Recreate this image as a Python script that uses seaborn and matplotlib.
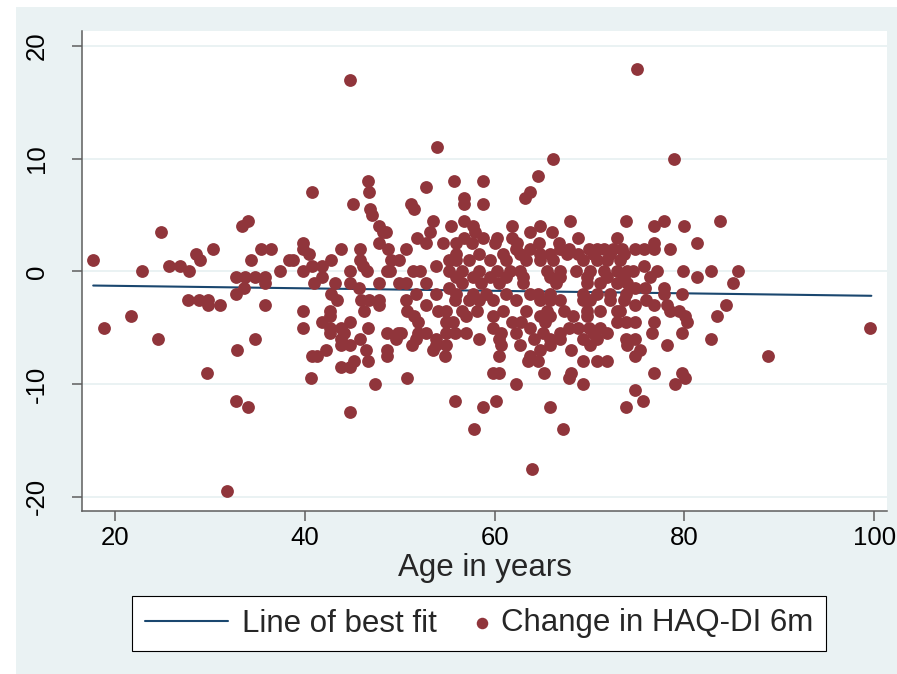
import numpy as np
import pandas as pd
import matplotlib
matplotlib.use("Agg")
import matplotlib.pyplot as plt
import seaborn as sns
from matplotlib.patches import Rectangle
from matplotlib.collections import PathCollection
from matplotlib.legend_handler import HandlerPathCollection

# ---- patients aged under 40 ----
age_a = [17.7, 18.8, 21.7, 22.8, 24.5, 24.8, 25.7, 26.8, 27.7, 27.8, 28.5, 28.8, 29.0,
         29.7, 29.8, 29.8, 30.3, 31.1, 31.8, 32.8, 32.8, 32.8, 32.9, 33.4, 33.6, 33.7,
         34.0, 34.0, 34.3, 34.8, 34.8, 35.4, 35.8, 35.8, 35.8, 36.4, 37.4, 38.3]
chg_a = [1.0, -5.0, -4.0, 0.0, -6.0, 3.5, 0.5, 0.5, -2.5, 0.0, 1.5, -2.5, 1.0,
         -9.0, -2.5, -3.0, 2.0, -3.0, -19.5, -11.5, -2.0, -0.5, -7.0, 4.0, -1.5, -0.5,
         -12.0, 4.5, 1.0, -6.0, -0.5, 2.0, -0.5, -1.0, -3.0, 2.0, 0.0, 1.0]

# ---- ages 38-56, upper half ----
age_b = [53.9, 40.8, 46.7, 46.8, 45.1, 52.8, 55.7, 51.2, 51.5, 46.9, 47.1, 53.5, 55.4,
         47.8, 48.6, 48.2, 53.2, 51.8, 52.8, 39.8, 43.8, 45.8, 47.8, 48.8, 50.7, 54.6,
         39.8, 38.8, 40.4, 42.8, 45.8, 49.1, 49.9, 40.8, 41.8, 39.8, 44.8, 46.6, 48.7,
         51.4, 52.1, 53.8, 55.2, 41.0, 43.2, 44.8, 45.7, 47.8, 49.9, 50.7, 52.8, 55.2,
         41.8, 46.1, 49.0, 44.8]
chg_b = [11.0, 7.0, 8.0, 7.0, 6.0, 7.5, 8.0, 6.0, 5.5, 5.5, 5.0, 4.5, 4.0,
         4.0, 3.5, 3.5, 3.5, 3.0, 2.5, 2.5, 2.0, 2.0, 2.5, 2.0, 2.0, 2.5,
         2.0, 1.0, 1.5, 1.0, 1.0, 1.0, 1.0, 0.5, 0.5, 0.0, 0.0, 0.0, 0.0,
         0.0, 0.0, 0.5, 1.0, -1.0, -1.0, -1.0, -1.5, -1.0, -1.0, -1.0, -1.0, -1.5,
         -0.5, 0.5, 0.0, 17.0]

# ---- ages 38-56, lower half ----
age_c = [42.8, 43.4, 45.9, 46.8, 47.8, 47.8, 50.7, 51.7, 52.8, 53.8, 55.8, 39.8, 42.7,
         42.7, 46.2, 50.8, 51.5, 51.9, 54.0, 54.9, 54.9, 55.6, 39.8, 41.8, 42.7, 43.8,
         44.8, 46.7, 42.7, 44.1, 48.7, 49.8, 50.1, 49.6, 51.9, 52.8, 53.8, 54.9, 55.8,
         43.8, 43.8, 44.8, 45.8, 51.3, 51.7, 53.5, 53.8, 54.9, 54.8, 42.2, 40.8, 41.3,
         46.5, 48.7, 48.7, 45.2, 44.8, 43.8, 46.7, 40.7, 47.4, 50.8, 55.8, 44.8]
chg_c = [-2.0, -2.5, -2.5, -2.5, -2.5, -3.0, -2.5, -2.0, -3.0, -2.0, -2.5, -3.5, -3.5,
         -4.0, -3.5, -3.5, -4.0, -4.5, -3.5, -3.5, -4.5, -4.5, -5.0, -4.5, -5.0, -5.0,
         -4.5, -5.0, -5.5, -5.5, -5.5, -5.5, -5.5, -6.0, -5.5, -5.5, -6.0, -5.5, -5.5,
         -6.0, -6.5, -6.5, -6.0, -6.5, -6.0, -7.0, -6.5, -6.5, -7.5, -7.0, -7.5, -7.5,
         -7.0, -7.0, -7.5, -8.0, -8.5, -8.5, -8.0, -9.5, -10.0, -9.5, -11.5, -12.5]

# ---- ages 55-74, improvements and no change ----
age_d = [66.2, 58.8, 64.6, 63.7, 63.2, 56.8, 56.8, 58.8, 67.9, 73.8, 56.8, 57.7, 57.9,
         61.8, 63.7, 64.8, 66.0, 68.8, 72.9, 64.7, 66.8, 71.5, 73.4,
         56.8, 58.8, 60.3, 61.8,
         55.9, 57.6, 60.0, 62.4,
         62.3, 63.7, 66.9, 67.8, 69.9, 70.8, 72.5,
         55.9, 58.4, 60.9, 62.7, 64.8, 65.8, 67.6, 68.8, 70.4, 72.2, 73.6,
         55.9, 57.3, 59.5, 61.2, 63.3, 64.8, 66.2, 69.3, 70.8, 71.8, 73.2,
         55.2, 56.6, 58.4, 60.2, 61.6, 62.7, 65.5, 66.9, 68.6, 70.1, 71.5, 72.9, 73.9]
chg_d = [10.0, 8.0, 8.5, 7.0, 6.5, 6.5, 6.0, 6.0, 4.5, 4.5, 4.5, 4.0, 3.5,
         4.0, 3.5, 4.0, 3.5, 3.0, 3.0, 2.5, 2.5, 2.0, 2.0,
         3.0, 3.0, 3.0, 3.0,
         2.5, 2.5, 2.5, 2.5,
         2.0, 2.0, 2.0, 2.0, 2.0, 2.0, 2.0,
         1.5, 1.5, 1.5, 1.5, 1.5, 1.5, 1.5, 1.5, 1.5, 1.5, 1.5,
         1.0, 1.0, 1.0, 1.0, 1.0, 1.0, 1.0, 1.0, 1.0, 1.0, 1.0,
         0.0, 0.0, 0.0, 0.0, 0.0, 0.0, 0.0, 0.0, 0.0, 0.0, 0.0, 0.0, 0.0]

# ---- ages 55-74, worsening ----
age_e = [55.9, 57.7, 59.5, 61.2, 63.0, 65.8, 66.9, 69.7, 71.8, 73.6,
         56.6, 58.6, 60.5, 63.0, 66.5, 69.7, 71.1, 72.9,
         55.9, 57.7, 59.1, 61.2, 63.7, 64.6, 65.8, 69.3, 70.8, 72.2, 73.8,
         57.3, 58.4, 59.8, 62.3, 64.8, 65.8, 66.9, 69.3, 70.1, 72.2, 73.6,
         56.6, 58.1, 60.9, 63.3, 65.5, 67.3, 69.7, 71.1, 72.9,
         57.0, 59.8, 64.8, 65.8, 68.3, 69.7,
         61.8, 62.8, 65.3, 72.9, 73.8,
         59.8, 63.7, 67.8, 68.8, 69.9, 71.1,
         57.0, 60.7, 62.3, 65.1, 66.9, 70.4, 71.8,
         58.4, 60.5, 64.1, 65.8, 66.9, 69.3, 70.8, 73.8,
         60.7, 62.7, 65.8, 70.1,
         64.8, 68.0, 60.5, 63.7,
         63.5, 64.6, 69.3, 70.8, 71.8,
         59.8, 60.5, 65.2, 68.1, 67.8, 62.3, 69.3,
         60.1, 58.8, 65.8, 73.8, 57.8, 67.2, 63.9]
chg_e = [-0.5, -0.5, -0.5, -0.5, -0.5, -0.5, -0.5, -0.5, -0.5, -0.5,
         -1.0, -1.0, -1.0, -1.0, -1.0, -1.0, -1.0, -1.0,
         -2.0, -2.0, -2.0, -2.0, -2.0, -2.0, -2.0, -2.0, -2.0, -2.0, -2.0,
         -2.5, -2.5, -2.5, -2.5, -2.5, -2.5, -2.5, -2.5, -2.5, -2.5, -2.5,
         -3.5, -3.5, -3.5, -3.5, -3.5, -3.5, -3.5, -3.5, -3.5,
         -4.0, -4.0, -4.0, -4.0, -4.0, -4.0,
         -4.5, -4.5, -4.5, -4.5, -4.5,
         -5.0, -5.0, -5.0, -5.0, -5.0, -5.0,
         -5.5, -5.5, -5.5, -5.5, -5.5, -5.5, -5.5,
         -6.0, -6.0, -6.0, -6.0, -6.0, -6.0, -6.0, -6.0,
         -6.5, -6.5, -6.5, -6.5,
         -7.0, -7.0, -7.5, -7.5,
         -8.0, -8.0, -8.0, -8.0, -8.0,
         -9.0, -9.0, -9.0, -9.0, -9.5, -10.0, -10.0,
         -11.5, -12.0, -12.0, -12.0, -14.0, -14.0, -17.5]

# ---- patients aged 73 and over ----
age_f = [78.9, 76.8, 77.8, 80.0, 83.7, 76.8, 81.3, 74.8, 75.7, 76.8, 78.5, 75.7, 74.6,
         77.1, 79.9, 82.8, 85.7, 81.3, 85.1, 76.4, 73.9, 75.9, 77.8, 79.8, 74.8, 77.8,
         73.2, 74.8, 76.0, 76.8, 78.2, 78.5, 79.4, 80.1, 80.3, 84.4, 83.4, 74.8, 76.8,
         76.6, 79.8, 82.8, 74.8, 74.0, 78.2, 75.3, 74.8, 88.8, 76.8, 79.8, 80.1, 79.0,
         74.8, 75.6, 75.0, 99.6]
chg_f = [10.0, 4.0, 4.5, 4.0, 4.5, 2.5, 2.5, 2.0, 2.0, 2.0, 2.0, 0.5, 0.0,
         0.0, 0.0, 0.0, 0.0, -0.5, -1.0, -0.5, -1.0, -1.5, -1.5, -2.0, -1.5, -2.0,
         -3.5, -3.0, -2.5, -3.0, -3.0, -3.5, -3.5, -4.0, -4.5, -3.0, -4.0, -4.5, -4.5,
         -5.5, -5.5, -6.0, -6.0, -6.5, -6.5, -7.0, -7.5, -7.5, -9.0, -9.0, -9.5, -10.0,
         -10.5, -11.5, 18.0, -5.0]

# ---- fitted regression line (endpoints over the observed age range) ----
fit_age = [17.7, 99.7]
fit_chg = [-1.26, -2.17]

BG = "#EAF2F3"
NAVY = "#1A476F"
MAROON = "#90353B"
AXIS_GREY = "#5E5E5E"

df = pd.DataFrame({
    "age": age_a + age_b + age_c + age_d + age_e + age_f,
    "chg": chg_a + chg_b + chg_c + chg_d + chg_e + chg_f,
})
fit_df = pd.DataFrame({"age": fit_age, "chg": fit_chg})

sns.set_theme(style="white")
plt.rcParams["font.family"] = ["Liberation Sans", "DejaVu Sans"]
plt.rcParams["axes.unicode_minus"] = False

W, H = 897, 674
fig = plt.figure(figsize=(W / 100, H / 100), dpi=100, facecolor="white")
fig.patches.append(Rectangle((16 / W, 0), 1, (H - 7) / H, transform=fig.transFigure,
                             facecolor=BG, edgecolor="none", zorder=-10))

ax = fig.add_axes([82 / W, 163 / H, 805 / W, 480 / H])
ax.set_facecolor("white")

sns.lineplot(data=fit_df, x="age", y="chg", color=NAVY, linewidth=1.5, ax=ax,
             label="Line of best fit", zorder=2)
sns.scatterplot(data=df, x="age", y="chg", color=MAROON, s=85, linewidth=0,
                ax=ax, label="Change in HAQ-DI 6m", zorder=3)

ax.set_xlim(16.52, 101.35)
ax.set_ylim(-21.27, 21.33)
ax.set_xticks([20, 40, 60, 80, 100])
ax.set_yticks([-20, -10, 0, 10, 20])
ax.grid(axis="y", color=BG, linewidth=1.4)
ax.grid(axis="x", visible=False)
ax.set_axisbelow(True)

for side in ("top", "right"):
    ax.spines[side].set_visible(False)
for side in ("left", "bottom"):
    ax.spines[side].set_color(AXIS_GREY)
    ax.spines[side].set_linewidth(1.1)

ax.tick_params(axis="both", direction="out", length=6.9, width=1.1, color=AXIS_GREY,
               labelsize=18.5, labelcolor="black")
ax.tick_params(axis="x", pad=4, bottom=True)
ax.tick_params(axis="y", pad=17, left=True, labelrotation=90)
for lbl in ax.get_yticklabels():
    lbl.set_va("center")

ax.set_xlabel("Age in years", fontsize=22.5, labelpad=2)
ax.set_ylabel("")


class RightMarker(HandlerPathCollection):
    """Place the legend marker at the right end of its handle box."""
    def get_xdata(self, legend, xdescent, ydescent, width, height, fontsize):
        x = np.array([-xdescent + width - 0.15 * fontsize])
        return x, x


handles, labels = ax.get_legend_handles_labels()
leg = ax.legend(handles, labels, loc="center", bbox_to_anchor=(479 / W, 50.5 / H),
                bbox_transform=fig.transFigure, ncol=2, fontsize=22.5, frameon=True,
                fancybox=False, edgecolor="black", facecolor="white", framealpha=1,
                handlelength=2.66, handletextpad=0.45, columnspacing=-1.07,
                borderpad=0.4, markerscale=0.9,
                handler_map={PathCollection: RightMarker()})
leg.get_frame().set_linewidth(0.8)
for line in leg.get_lines():
    line.set_linewidth(1.5)

fig.savefig("out.png", dpi=100, facecolor=fig.get_facecolor())
